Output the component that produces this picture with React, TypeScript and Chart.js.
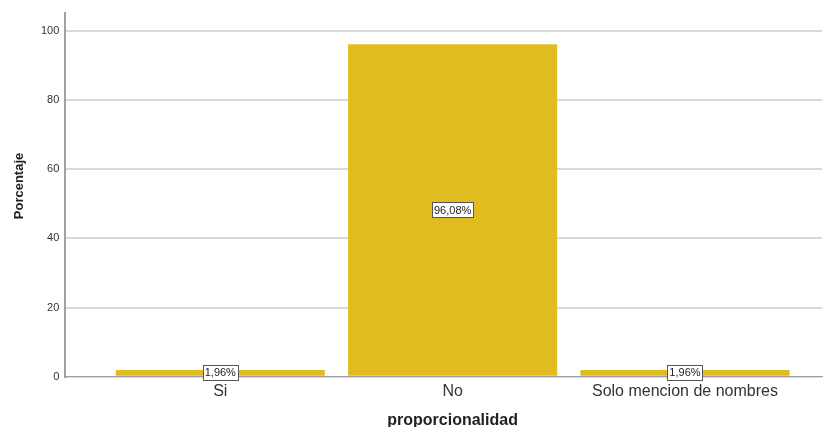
import React, { useEffect, useRef } from "react";
import { Chart, registerables } from "chart.js";

Chart.register(...registerables);

const categories = ["Si", "No", "Solo mencion de nombres"];
const values = [1.96, 96.08, 1.96];
const labels = ["1,96%", "96,08%", "1,96%"];
const yTicks = [0, 20, 40, 60, 80, 100];
const xTitle = "proporcionalidad";
const yTitle = "Porcentaje";

const FONT = "'Liberation Sans', Arial, sans-serif";

const boxLabels = {
  id: "boxLabels",
  afterDatasetsDraw(chart: any) {
    const ctx = chart.ctx;
    const meta = chart.getDatasetMeta(0);
    ctx.save();
    ctx.font = "11px " + FONT;
    ctx.textAlign = "center";
    ctx.textBaseline = "middle";
    meta.data.forEach((bar: any, i: number) => {
      const x = bar.x;
      const y = (bar.y + bar.base) / 2;
      const t = labels[i];
      const w = Math.round(ctx.measureText(t).width + 4);
      const h = 15;
      const bx = Math.round(x - w / 2) + 0.5;
      const by = Math.round(y - h / 2) + 0.5;
      ctx.fillStyle = "#ffffff";
      ctx.fillRect(bx, by, w, h);
      ctx.strokeStyle = "#555555";
      ctx.lineWidth = 1;
      ctx.strokeRect(bx, by, w, h);
      ctx.fillStyle = "#222222";
      ctx.fillText(t, x, y + 0.5);
    });
    ctx.restore();
  },
};

const axisTitles = {
  id: "axisTitles",
  afterDraw(chart: any) {
    const ctx = chart.ctx;
    const xs = chart.scales.x;
    ctx.save();
    ctx.fillStyle = "#222222";
    ctx.textAlign = "center";
    ctx.textBaseline = "alphabetic";
    ctx.font = "bold 16px " + FONT;
    ctx.fillText(xTitle, xs.getPixelForValue(1), 425);
    ctx.translate(23, 186);
    ctx.rotate(-Math.PI / 2);
    ctx.font = "bold 13px " + FONT;
    ctx.fillText(yTitle, 0, 0);
    ctx.restore();
  },
};

export default function App() {
  const ref = useRef<HTMLCanvasElement>(null);
  useEffect(() => {
    document.body.style.margin = "0";
    const chart = new Chart(ref.current!, {
      type: "bar",
      data: {
        datasets: [
          {
            data: values.map((v, i) => ({ x: i, y: v })),
            backgroundColor: "#E0BC1E",
            borderWidth: 0,
            categoryPercentage: 1,
            barPercentage: 0.9,
          },
        ],
      },
      options: {
        animation: false,
        responsive: false,
        layout: { padding: { left: 35, right: 4, top: 12, bottom: 21 } },
        plugins: { legend: { display: false }, tooltip: { enabled: false } },
        scales: {
          x: {
            type: "linear",
            min: -0.667,
            max: 2.59,
            offset: false,
            grid: { display: false, drawTicks: false },
            border: { display: true, color: "#A0A0A0", width: 1 },
            afterBuildTicks: (s: any) => {
              s.ticks = categories.map((_, i) => ({ value: i }));
            },
            ticks: {
              autoSkip: false,
              maxRotation: 0,
              padding: 5,
              color: "#333333",
              font: { family: FONT, size: 16 },
              callback: (v: any) => categories[v as number] ?? "",
            },
          },
          y: {
            min: 0,
            max: 105.2,
            afterBuildTicks: (s: any) => {
              s.ticks = yTicks.map((v) => ({ value: v }));
            },
            grid: { color: "#D9D9D9", lineWidth: 2, drawTicks: false },
            border: { display: true, color: "#A0A0A0", width: 2 },
            ticks: {
              padding: 6,
              color: "#333333",
              font: { family: FONT, size: 11 },
            },
          },
        },
      },
      plugins: [boxLabels, axisTitles],
    });
    return () => chart.destroy();
  }, []);
  return (
    <div style={{ width: 826, height: 427 }}>
      <canvas ref={ref} width={826} height={427} style={{ display: "block" }} />
    </div>
  );
}
